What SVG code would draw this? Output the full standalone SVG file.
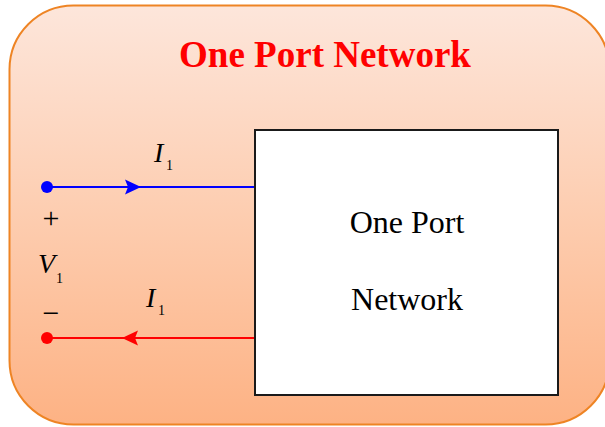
<svg xmlns="http://www.w3.org/2000/svg" width="605" height="427" viewBox="0 0 605 427">
  <defs>
    <linearGradient id="bg" x1="0" y1="0" x2="0" y2="1">
      <stop offset="0" stop-color="#fde6db"/>
      <stop offset="0.5" stop-color="#fdcdb0"/>
      <stop offset="1" stop-color="#fdb284"/>
    </linearGradient>
  </defs>
  <style>
    .lbl { font-family: "Liberation Serif", "Times New Roman", serif; fill: #000; }
    .it { font-style: italic; }
    .wire { stroke-width: 2; fill: none; }
  </style>

  <!-- panel -->
  <rect x="9.5" y="5.5" width="600" height="419" rx="64" ry="64" fill="url(#bg)" stroke="#ee8424" stroke-width="2"/>
  <text x="325" y="67" text-anchor="middle" font-family="Liberation Serif, Times New Roman, serif" font-weight="bold" font-size="37" fill="#ff0000">One Port Network</text>

  <!-- connectors -->
  <g id="connectors">
    <line class="wire" x1="47" y1="187" x2="255" y2="187" stroke="#0000ff"/>
    <polygon points="125,179.5 141,187 125,194.5 128,187" fill="#0000ff"/>
    <line class="wire" x1="47" y1="338" x2="255" y2="338" stroke="#ff0000"/>
    <polygon points="138,330.5 122,338 138,345.5 135,338" fill="#ff0000"/>
  </g>

  <!-- terminals -->
  <g id="terminal-plus">
    <circle cx="47" cy="187" r="6" fill="#0000ff"/>
  </g>
  <g id="terminal-minus">
    <circle cx="47" cy="338" r="6" fill="#ff0000"/>
  </g>

  <!-- network block -->
  <g id="network">
    <rect x="255" y="130" width="303" height="265" fill="#ffffff" stroke="#1a1a1a" stroke-width="2"/>
    <text class="lbl" x="407" y="233" text-anchor="middle" font-size="32">One Port</text>
    <text class="lbl" x="407" y="310" text-anchor="middle" font-size="32">Network</text>
  </g>

  <!-- port labels -->
  <g id="labels">
    <text class="lbl it" x="154" y="162" font-size="28">I</text>
    <text class="lbl" x="166" y="170" font-size="14">1</text>
    <text class="lbl" x="51" y="228" text-anchor="middle" font-size="30">+</text>
    <text class="lbl it" x="38" y="273" font-size="28">V</text>
    <text class="lbl" x="56" y="283" font-size="14">1</text>
    <text class="lbl it" x="146" y="307" font-size="28">I</text>
    <text class="lbl" x="158" y="315" font-size="14">1</text>
    <text class="lbl" x="51" y="323" text-anchor="middle" font-size="30">−</text>
  </g>
</svg>
